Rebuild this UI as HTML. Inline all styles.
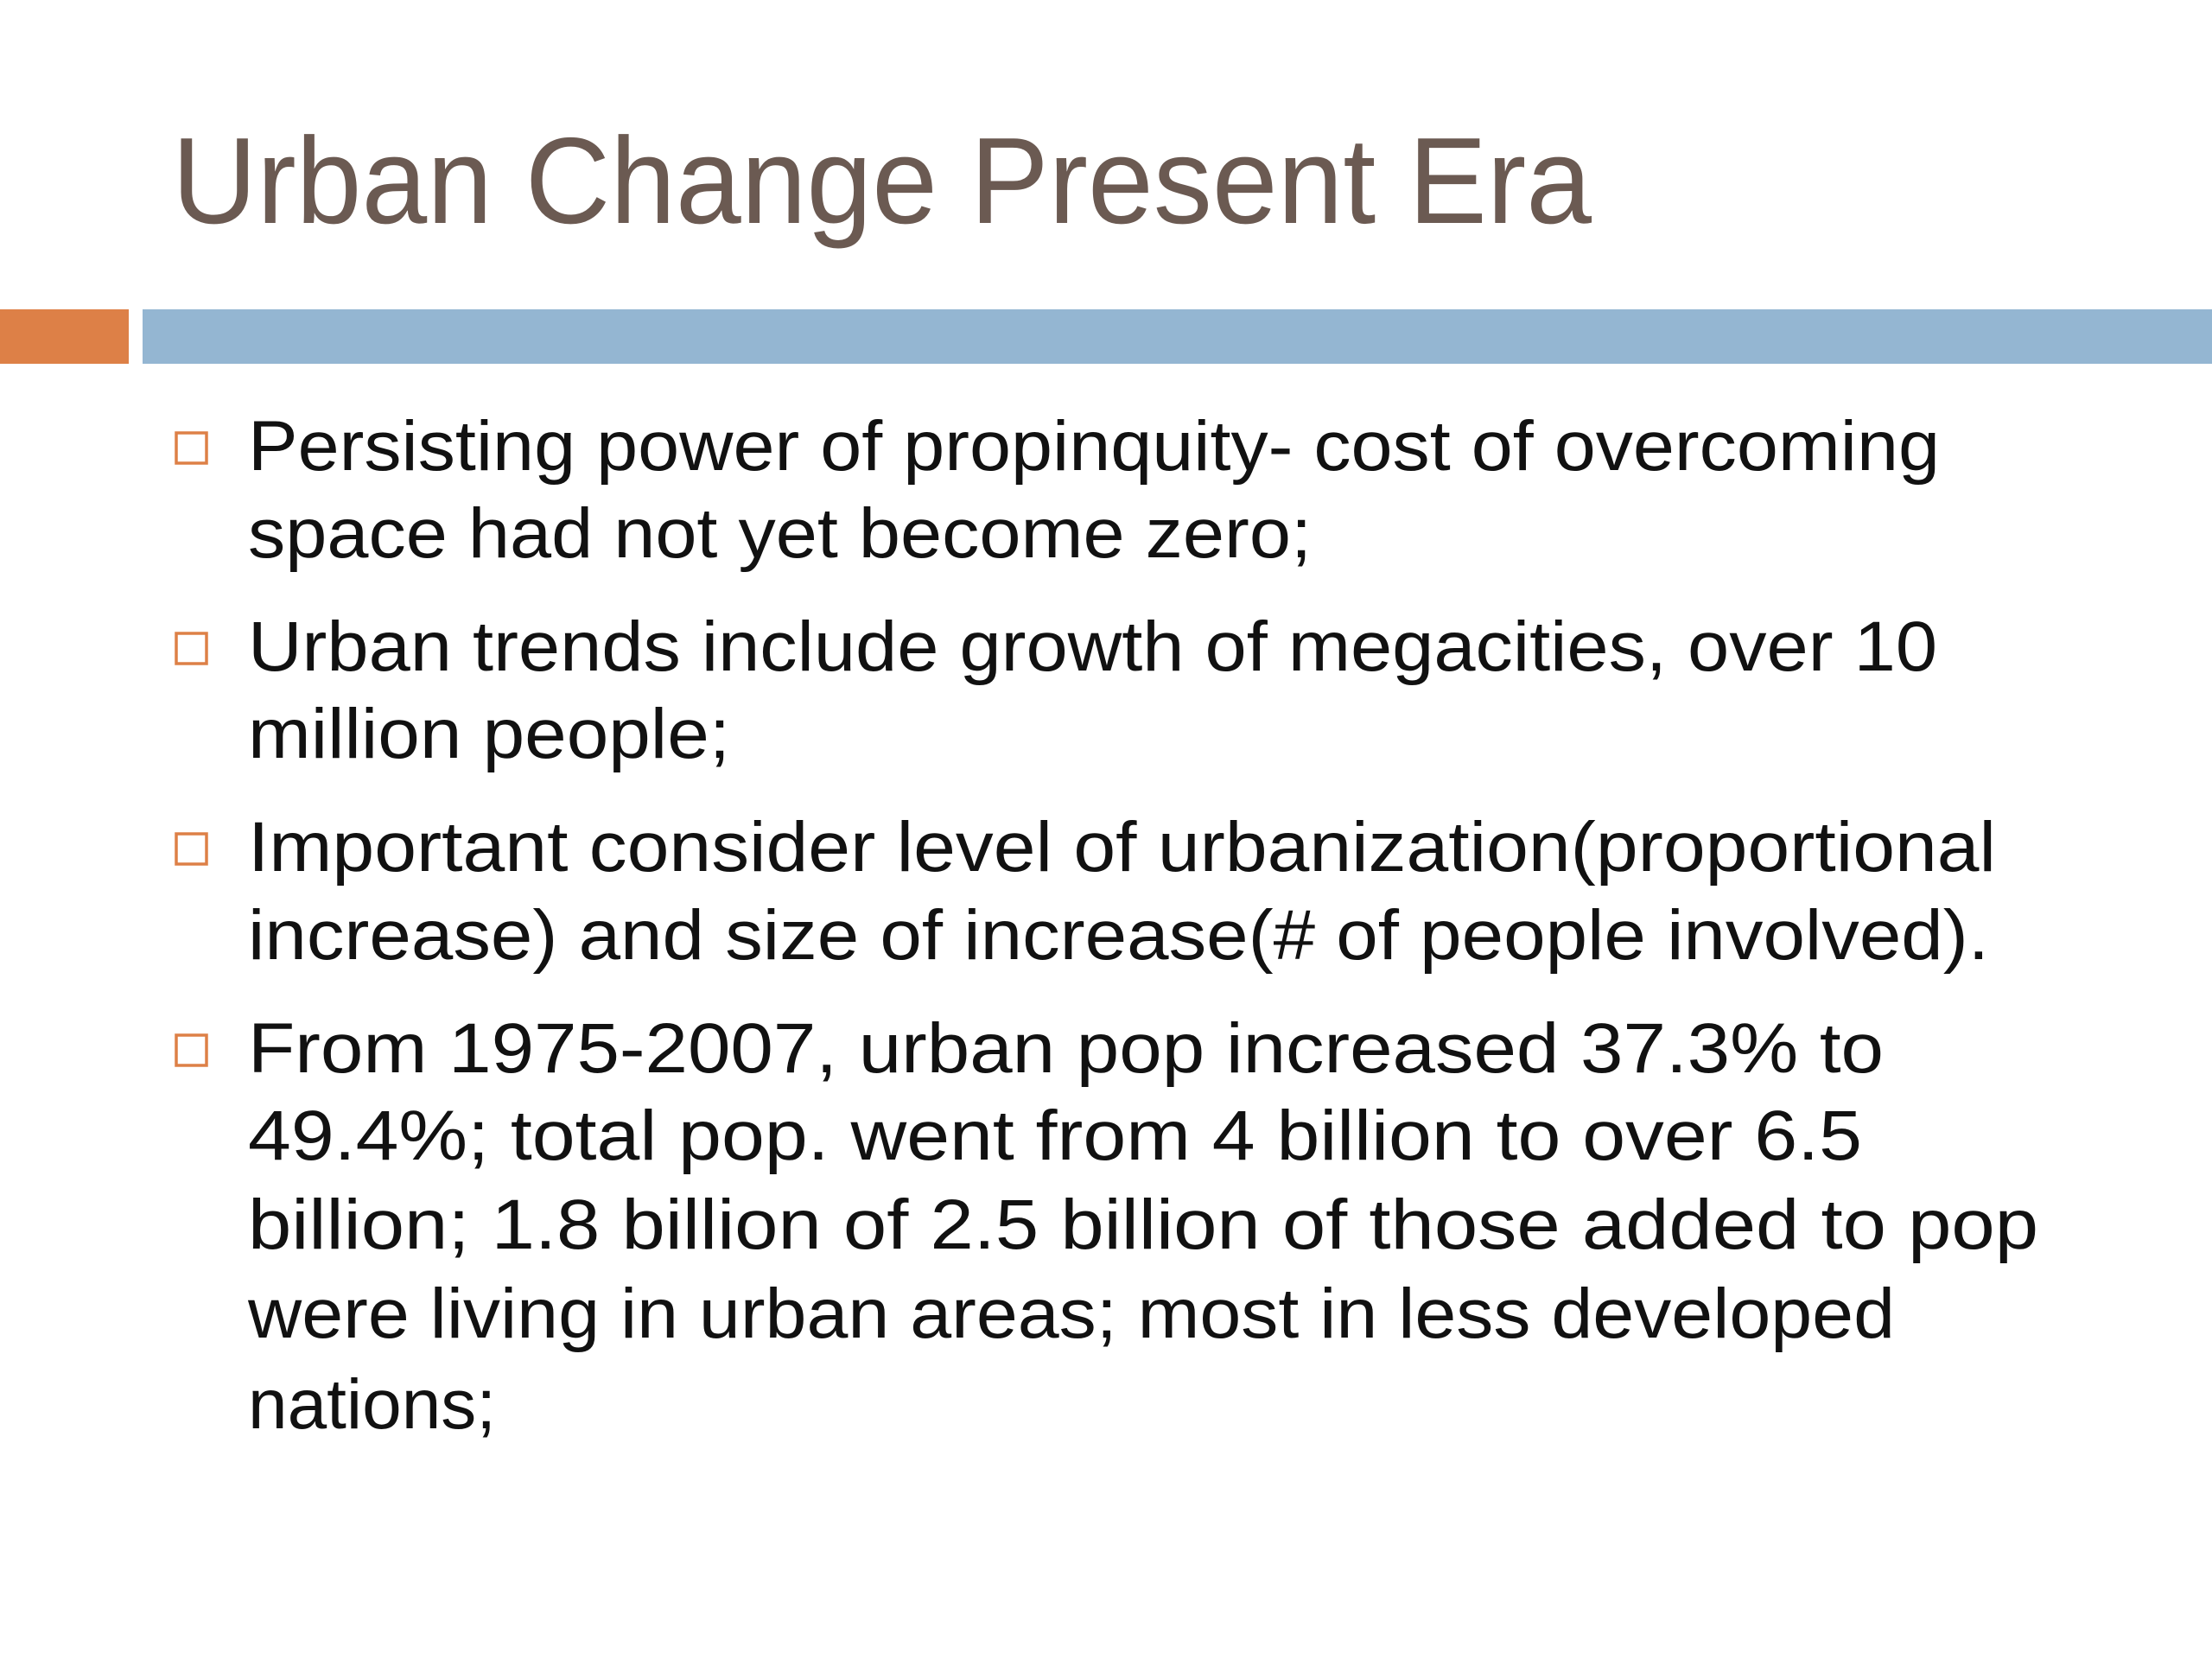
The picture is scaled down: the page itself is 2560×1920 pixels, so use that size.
<!DOCTYPE html>
<html><head><meta charset="utf-8"><style>
html,body{margin:0;padding:0;background:#fff}
svg{display:block}
text{font-family:"Liberation Sans",sans-serif}
</style></head><body>
<svg width="2560" height="1920" viewBox="0 0 2560 1920">
<rect width="2560" height="1920" fill="#fff"/>
<text x="199" y="258" font-size="142" fill="#6b5a52" textLength="1643" lengthAdjust="spacingAndGlyphs">Urban Change Present Era</text>
<rect x="0" y="358" width="149" height="63" fill="#dd8047"/>
<rect x="165" y="358" width="2395" height="63" fill="#94b6d2"/>
<g font-size="82" fill="#111">
<rect x="204" y="501" width="35" height="35" fill="none" stroke="#dd8047" stroke-width="3.5"/>
<rect x="204" y="733" width="35" height="35" fill="none" stroke="#dd8047" stroke-width="3.5"/>
<rect x="204" y="965" width="35" height="35" fill="none" stroke="#dd8047" stroke-width="3.5"/>
<rect x="204" y="1198" width="35" height="35" fill="none" stroke="#dd8047" stroke-width="3.5"/>
<text x="287" y="544" textLength="1958" lengthAdjust="spacingAndGlyphs">Persisting power of propinquity- cost of overcoming</text>
<text x="287" y="645" textLength="1231" lengthAdjust="spacingAndGlyphs">space had not yet become zero;</text>
<text x="287" y="776" textLength="1955" lengthAdjust="spacingAndGlyphs">Urban trends include growth of megacities, over 10</text>
<text x="287" y="877" textLength="558" lengthAdjust="spacingAndGlyphs">million people;</text>
<text x="287" y="1008" textLength="2023" lengthAdjust="spacingAndGlyphs">Important consider level of urbanization(proportional</text>
<text x="287" y="1110" textLength="2015" lengthAdjust="spacingAndGlyphs">increase) and size of increase(# of people involved).</text>
<text x="287" y="1241" textLength="1893" lengthAdjust="spacingAndGlyphs">From 1975-2007, urban pop increased 37.3% to</text>
<text x="287" y="1342" textLength="1868" lengthAdjust="spacingAndGlyphs">49.4%; total pop. went from 4 billion to over 6.5</text>
<text x="287" y="1445" textLength="2072" lengthAdjust="spacingAndGlyphs">billion; 1.8 billion of 2.5 billion of those added to pop</text>
<text x="287" y="1548" textLength="1906" lengthAdjust="spacingAndGlyphs">were living in urban areas; most in less developed</text>
<text x="287" y="1653" textLength="287" lengthAdjust="spacingAndGlyphs">nations;</text>
</g>
</svg>
</body></html>
